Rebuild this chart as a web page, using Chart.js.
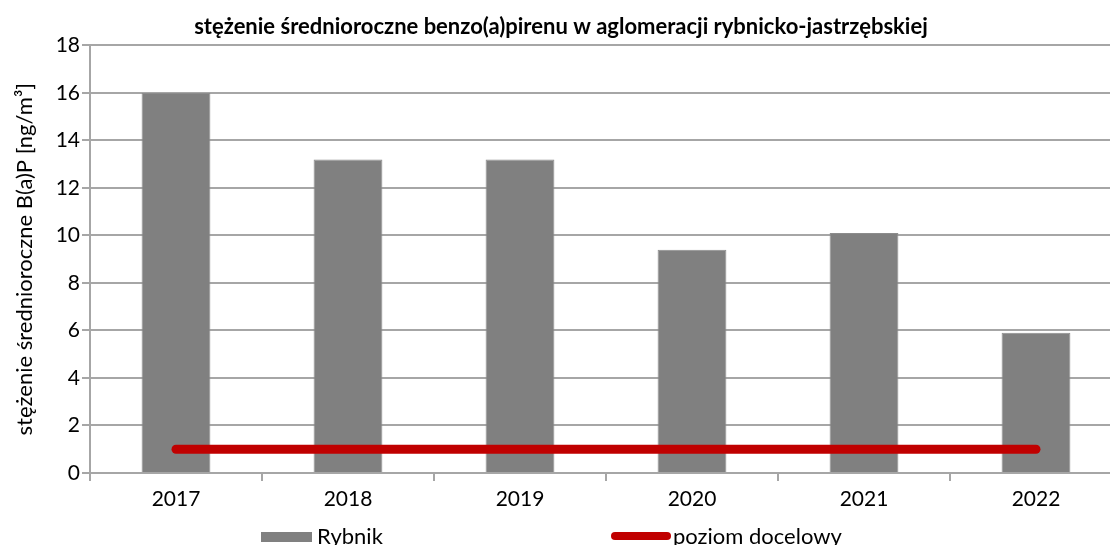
<!DOCTYPE html>
<html>
<head>
<meta charset="utf-8">
<script src="https://cdn.jsdelivr.net/npm/chart.js@4.4.0/dist/chart.umd.min.js"></script>
<style>
  html, body { margin: 0; padding: 0; background: #fff; overflow: hidden; }
  #wrap { width: 1125px; height: 545px; position: relative; }
</style>
</head>
<body>
<div id="wrap"><canvas id="myChart"></canvas></div>
<script>
var years = ['2017', '2018', '2019', '2020', '2021', '2022'];
var rybnik = [16, 13.2, 13.2, 9.4, 10.1, 5.9];
var poziomDocelowy = [1, 1, 1, 1, 1, 1];
var yTicks = [0, 2, 4, 6, 8, 10, 12, 14, 16, 18];

var FONT = 'Lato, "Open Sans", sans-serif';
var gridGray = '#a6a6a6';

// legend drawn by hand, the original one sits low and spread out
var legendPlugin = {
  id: 'bottomLegend',
  afterDraw: function (chart) {
    var ctx = chart.ctx;
    ctx.save();
    ctx.fillStyle = '#808080';
    ctx.fillRect(261, 532, 51, 10);
    ctx.strokeStyle = '#C00000';
    ctx.lineWidth = 8;
    ctx.lineCap = 'round';
    ctx.beginPath();
    ctx.moveTo(615, 536);
    ctx.lineTo(667, 536);
    ctx.stroke();
    ctx.fillStyle = '#000';
    ctx.font = '22px ' + FONT;
    ctx.textBaseline = 'alphabetic';
    ctx.fillText(chart.data.datasets[0].label, 317, 544);
    ctx.fillText(chart.data.datasets[1].label, 673, 544);
    ctx.restore();
  }
};

var ctx = document.getElementById('myChart');
var myChart = new Chart(ctx, {
  type: 'bar',
  data: {
    labels: years,
    datasets: [
      {
        label: 'Rybnik',
        data: rybnik,
        backgroundColor: '#808080',
        borderColor: '#8c8c8c',
        borderWidth: 1,
        barPercentage: 0.4,
        categoryPercentage: 1,
        order: 2
      },
      {
        type: 'line',
        label: 'poziom docelowy',
        data: poziomDocelowy,
        borderColor: '#C00000',
        borderWidth: 9,
        borderCapStyle: 'round',
        pointRadius: 0,
        fill: false,
        order: 1
      }
    ]
  },
  options: {
    responsive: true,
    maintainAspectRatio: false,
    animation: false,
    layout: { padding: { left: 0, right: 3, top: 0, bottom: 32 } },
    plugins: {
      legend: { display: false },
      tooltip: { enabled: false },
      title: {
        display: true,
        text: 'stężenie średnioroczne benzo(a)pirenu w aglomeracji rybnicko-jastrzębskiej',
        color: '#000',
        font: { family: FONT, size: 22, weight: 'bold' },
        padding: { top: 14, bottom: 5 }
      }
    },
    scales: {
      x: {
        offset: true,
        grid: {
          offset: true,
          drawOnChartArea: false,
          color: gridGray,
          lineWidth: 2,
          tickLength: 8
        },
        border: { color: gridGray, width: 2 },
        ticks: { color: '#000', font: { family: FONT, size: 21 }, padding: 6 },
        afterFit: function (s) { s.height = 40; }
      },
      y: {
        min: 0,
        max: 18,
        afterBuildTicks: function (s) { s.ticks = yTicks.map(function (v) { return { value: v }; }); },
        grid: { color: gridGray, lineWidth: 2, tickLength: 8 },
        border: { color: gridGray, width: 2 },
        ticks: { color: '#000', font: { family: FONT, size: 21 }, padding: 2 },
        title: {
          display: true,
          text: 'stężenie średnioroczne B(a)P [ng/m³]',
          color: '#000',
          font: { family: FONT, size: 22 },
          padding: { top: 12, bottom: 0 }
        },
        afterFit: function (s) { s.width = 90; }
      }
    }
  },
  plugins: [legendPlugin]
});
</script>
</body>
</html>
